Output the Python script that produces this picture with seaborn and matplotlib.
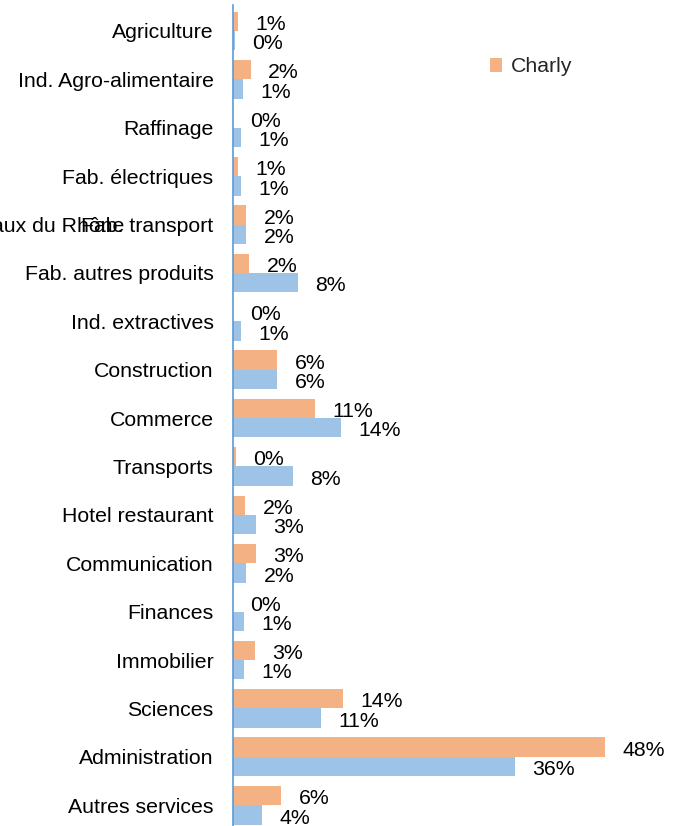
import matplotlib
matplotlib.use("Agg")
import matplotlib.pyplot as plt
import seaborn as sns
import pandas as pd
from matplotlib.patches import Patch

categories = ["Agriculture", "Ind. Agro-alimentaire", "Raffinage", "Fab. électriques",
              "Fab. transport", "Fab. autres produits", "Ind. extractives", "Construction",
              "Commerce", "Transports", "Hotel restaurant", "Communication", "Finances",
              "Immobilier", "Sciences", "Administration", "Autres services"]
charly = [0.6, 2.3, 0.0, 0.7, 1.7, 2.1, 0.0, 5.7, 10.6, 0.4, 1.6, 3.0, 0.0, 2.8, 14.2, 48.0, 6.2]
coteaux = [0.2, 1.3, 1.0, 1.0, 1.7, 8.4, 1.0, 5.7, 13.9, 7.7, 3.0, 1.7, 1.4, 1.4, 11.4, 36.4, 3.7]
series = ["Charly", "Coteaux du Rhône"]
colors = ["#F4B183", "#9DC3E6"]

sns.set_theme(style="white")
plt.rcParams['font.family'] = ['Liberation Sans', 'DejaVu Sans']

df = pd.DataFrame({
    "cat": categories * 2,
    "val": charly + coteaux,
    "serie": [series[0]] * len(categories) + [series[1]] * len(categories),
})

fig = plt.figure(figsize=(6.74, 8.26), dpi=100)
W, H = 674, 826
ax = fig.add_axes([233 / W, 0, (659 - 233) / W, (826 - 5) / H])

sns.barplot(data=df, y="cat", x="val", hue="serie", order=categories, hue_order=series,
            palette=colors, orient="h", width=0.8, gap=0, linewidth=0, errorbar=None,
            saturation=1, ax=ax, legend=False)

ax.set_xlim(0, 55)
ax.set_ylim(16.43, -0.537)
ax.set_xlabel("")
ax.set_ylabel("")
ax.set_xticks([])
for s in ["top", "right", "bottom"]:
    ax.spines[s].set_visible(False)
ax.spines["left"].set_color("#5B9BD5")
ax.spines["left"].set_linewidth(1.2)
ax.tick_params(axis="y", length=0, pad=14, labelsize=15.3, labelcolor="#000000")

for cont, vals in zip(ax.containers, [charly, coteaux]):
    labels = [f"{round(v):d}%" for v in vals]
    texts = ax.bar_label(cont, labels=labels, padding=12, fontsize=15.3, color="#000000",
                         clip_on=False)
    for t in texts:
        t.xyann = (12.5, -2.3)

# legend
fig.legend(handles=[Patch(facecolor=colors[0], edgecolor="none")], labels=[series[0]],
           loc="center left", bbox_to_anchor=(479 / W, 1 - 67 / H), frameon=False,
           fontsize=15.3, handlelength=0.6, handleheight=0.6, handletextpad=0.4,
           borderpad=0)
fig.text(124 / W, 1 - 227 / H, series[1], ha="right", va="center", fontsize=15.3, color="#000000")

fig.savefig("out.png", dpi=100)
